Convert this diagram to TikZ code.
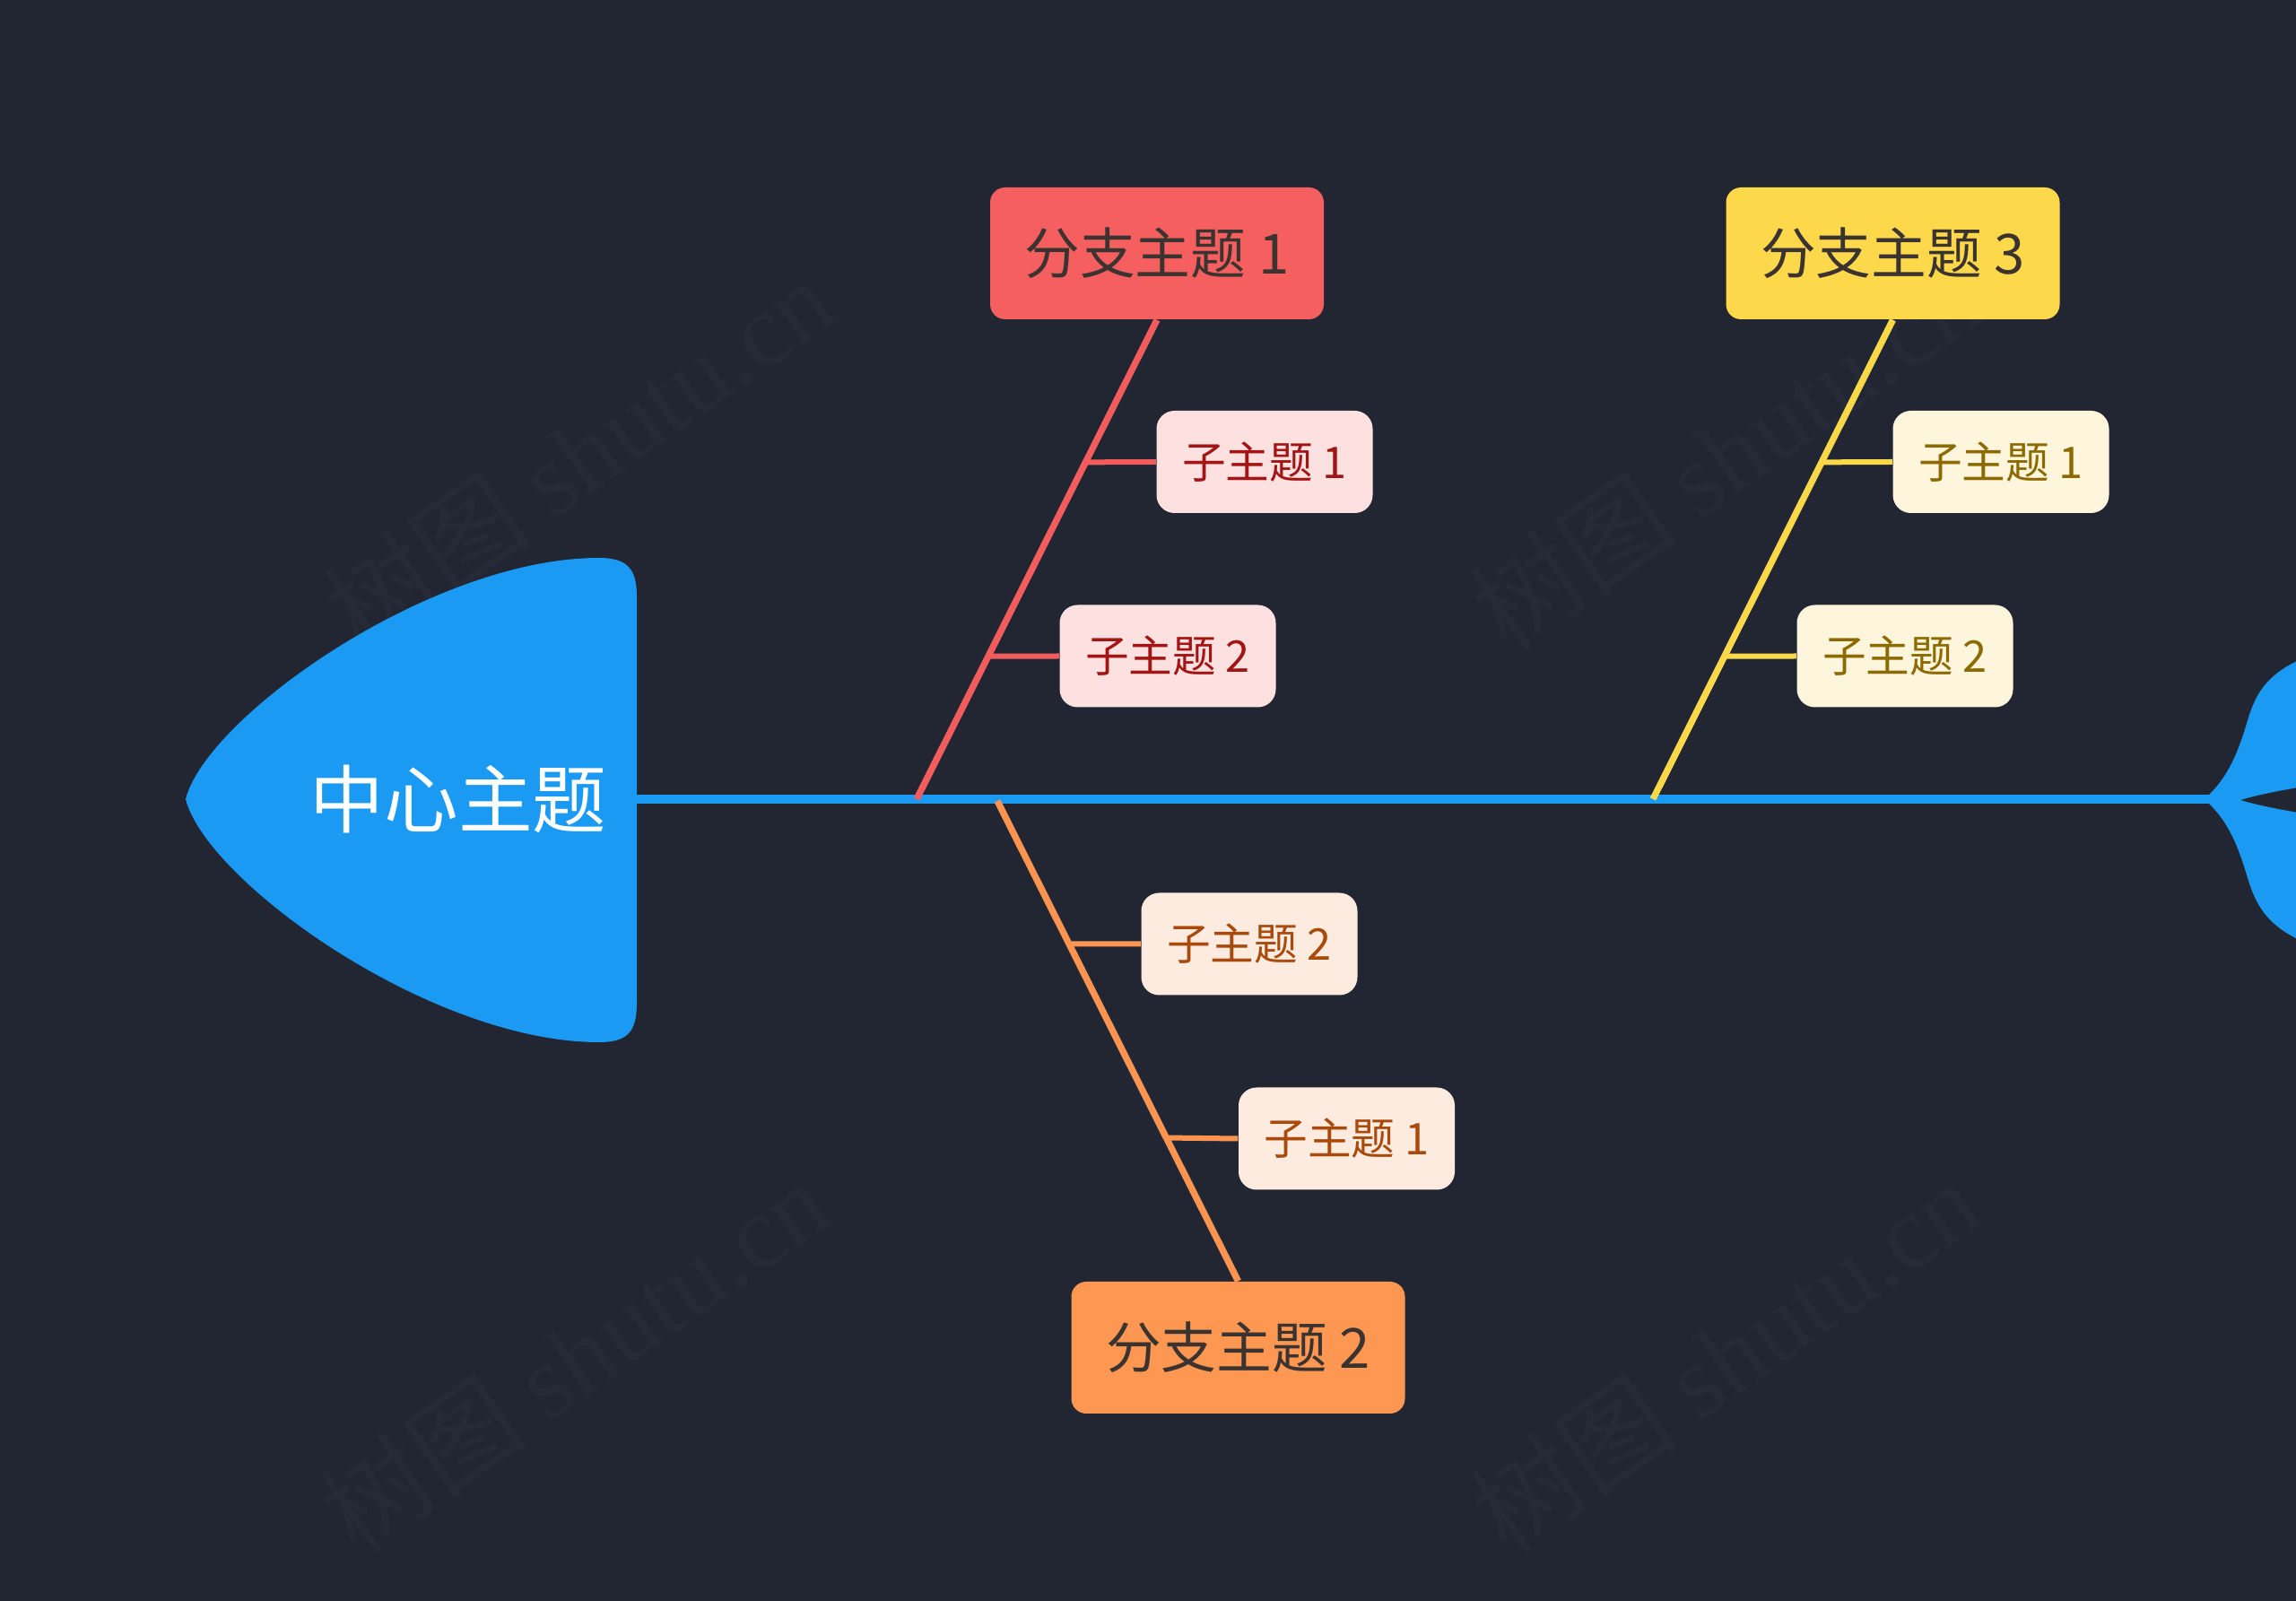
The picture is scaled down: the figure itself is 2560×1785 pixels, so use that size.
\documentclass[tikz,border=0pt]{standalone}
\usepackage{fontspec}
\setmainfont{Noto Sans CJK SC}
\newfontfamily\wmfont{Liberation Serif}
\usetikzlibrary{calc}
\definecolor{bg}{HTML}{222632}
\definecolor{fishblue}{HTML}{1A9AF2}
\definecolor{redmain}{HTML}{F65F5F}
\definecolor{redline}{HTML}{F25C5C}
\definecolor{redsub}{HTML}{FDE1E1}
\definecolor{redtext}{HTML}{A31515}
\definecolor{yelmain}{HTML}{FDD84B}
\definecolor{yelline}{HTML}{F9D84A}
\definecolor{yelsub}{HTML}{FDF5DC}
\definecolor{yeltext}{HTML}{8C6A00}
\definecolor{orgmain}{HTML}{FD9752}
\definecolor{orgline}{HTML}{FA9450}
\definecolor{orgsub}{HTML}{FEEBDF}
\definecolor{orgtext}{HTML}{A84A0C}
\definecolor{maintext}{HTML}{3B3330}
\definecolor{wmcol}{HTML}{262A36}
\begin{document}
\begin{tikzpicture}[x=0.3pt,y=-0.3pt,
  mainbox/.style={rounded corners=5pt, minimum width=111.6pt, minimum height=44.1pt, inner sep=0pt,
    font=\fontsize{18.5pt}{20pt}\selectfont, text=maintext},
  subbox/.style={rounded corners=6pt, minimum width=72.3pt, minimum height=34.2pt, inner sep=0pt,
    font=\fontsize{14.6pt}{16pt}\selectfont},
  branch/.style={line width=2.2pt},
  twig/.style={line width=1.8pt},
  wmark/.style={rotate=35, text=wmcol, inner sep=0pt, font=\fontsize{35pt}{37pt}\selectfont}]
% background
\fill[bg] (0,0) rectangle (2560,1785);
\useasboundingbox (0,0) rectangle (2560,1785);
% watermarks
\node[wmark] (wm1) at (645,506) {树图 {\wmfont shutu.cn}};
\node[wmark] (wm2) at (1923,506) {树图 {\wmfont shutu.cn}};
\node[wmark] (wm3) at (640,1512) {树图 {\wmfont shutu.cn}};
\node[wmark] (wm4) at (1923,1512) {树图 {\wmfont shutu.cn}};
% key points
\coordinate (headR) at (705,891);
\coordinate (tailJ) at (2470,891);
\coordinate (s1) at (1022,891);
\coordinate (s2) at (1112,893);
\coordinate (s3) at (1843,891);
% spine
\draw[fishblue, line width=3pt] (headR) -- (tailJ);
% head
\fill[fishblue] (207,891) .. controls (230,800) and (480,622) .. (668,622)
  .. controls (700,622) and (710,635) .. (710,665) -- (710,1118)
  .. controls (710,1150) and (700,1162) .. (668,1162)
  .. controls (480,1162) and (230,982) .. (207,891) -- cycle;
\node[text=white, inner sep=0pt, font=\fontsize{24.8pt}{26pt}\selectfont] (center) at (511,891) {中心主题};
% tail
\fill[fishblue] (2463,886) .. controls (2488,862) and (2498,830) .. (2507,800)
  .. controls (2518,765) and (2535,742) .. (2600,722) -- (2600,872)
  .. controls (2560,878) and (2520,885) .. (2498,892)
  .. controls (2520,899) and (2560,906) .. (2600,912) -- (2600,1062)
  .. controls (2535,1042) and (2518,1017) .. (2507,982)
  .. controls (2498,952) and (2488,920) .. (2463,896) -- cycle;
% main boxes
\node[mainbox, fill=redmain] (m1) at (1290,282.5) {分支主题 1};
\node[mainbox, fill=yelmain] (m3) at (2110.5,282.5) {分支主题 3};
\node[mainbox, fill=orgmain] (m2) at (1380.5,1502.5) {分支主题 2};
% branch lines
\draw[redline, branch] (m1.south) -- (s1);
\draw[yelline, branch] (m3.south) -- (s3);
\draw[orgline, branch] (s2) -- (m2.north);
% junctions
\coordinate (r1j) at ($(m1.south)!0.297!(s1)$);
\coordinate (r2j) at ($(m1.south)!0.702!(s1)$);
\coordinate (y1j) at ($(m3.south)!0.297!(s3)$);
\coordinate (y2j) at ($(m3.south)!0.702!(s3)$);
\coordinate (o2j) at ($(s2)!0.2975!(m2.north)$);
\coordinate (o1j) at ($(s2)!0.7015!(m2.north)$);
% sub boxes
\node[subbox, fill=redsub, text=redtext] (r1) at (1410,515) {子主题 1};
\node[subbox, fill=redsub, text=redtext] (r2) at (1302,731.5) {子主题 2};
\node[subbox, fill=yelsub, text=yeltext] (y1) at (2231,515) {子主题 1};
\node[subbox, fill=yelsub, text=yeltext] (y2) at (2124,731.5) {子主题 2};
\node[subbox, fill=orgsub, text=orgtext] (o2) at (1393,1052.5) {子主题 2};
\node[subbox, fill=orgsub, text=orgtext] (o1) at (1501.5,1269.5) {子主题 1};
% twigs
\draw[redline, twig] (r1j) -- (r1.west);
\draw[redline, twig] (r2j) -- (r2.west);
\draw[yelline, twig] (y1j) -- (y1.west);
\draw[yelline, twig] (y2j) -- (y2.west);
\draw[orgline, twig] (o2j) -- (o2.west);
\draw[orgline, twig] (o1j) -- (o1.west);
\end{tikzpicture}
\end{document}
